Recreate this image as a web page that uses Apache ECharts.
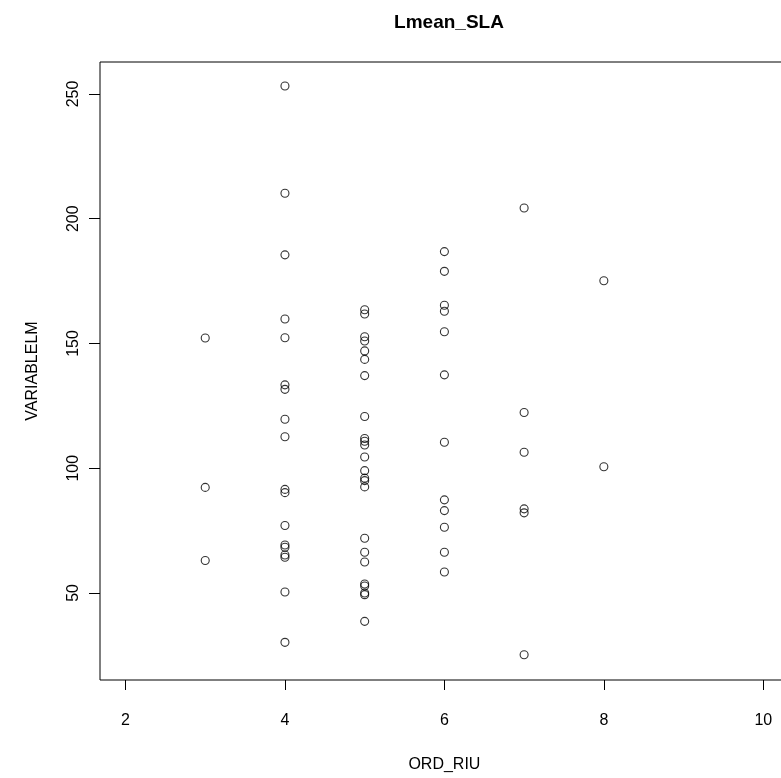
<!DOCTYPE html>
<html>
<head>
<meta charset="utf-8">
<script src="https://cdn.jsdelivr.net/npm/echarts@6/dist/echarts.min.js"></script>
<style>
html,body{margin:0;padding:0;background:#fff;}
#chart{width:781px;height:778px;}
</style>
</head>
<body>
<div id="chart"></div>
<script>
// Values of VARIABLELM grouped by ORD_RIU
const riu3 = [152.2, 92.3, 63.0];
const riu4 = [253.2, 210.2, 185.5, 159.8, 152.3, 133.4, 131.6, 119.6, 112.6, 91.5, 90.2, 77.0, 69.2, 68.3, 65.2, 64.3, 50.4, 30.2];
const riu5 = [163.5, 161.8, 152.7, 151.0, 147.0, 143.6, 137.1, 120.7, 111.9, 110.8, 109.3, 104.5, 99.0, 96.0, 95.0, 92.5, 71.9, 66.3, 62.4, 53.6, 52.8, 50.0, 49.3, 38.6];
const riu6 = [186.8, 178.9, 165.3, 162.9, 154.7, 137.4, 110.4, 87.3, 83.0, 76.3, 66.3, 58.4];
const riu7 = [204.3, 122.3, 106.4, 83.7, 82.1, 25.2];
const riu8 = [175.1, 100.6];
const xTicks = [2, 4, 6, 8, 10];
const yTicks = [50, 100, 150, 200, 250];

const groups = [[3, riu3], [4, riu4], [5, riu5], [6, riu6], [7, riu7], [8, riu8]];
const points = [];
groups.forEach(([x, ys]) => ys.forEach(y => points.push([x, y])));

const font = 'Liberation Sans, Arial, Helvetica, sans-serif';
const chart = echarts.init(document.getElementById('chart'), null, {renderer: 'canvas'});
chart.setOption({
  animation: false,
  backgroundColor: '#ffffff',
  title: {
    text: 'Lmean_SLA',
    left: 444, top: 8,
    textAlign: 'center',
    textStyle: {fontFamily: font, fontSize: 19, fontWeight: 'bold', color: '#000'}
  },
  grid: {
    left: 100, top: 62, width: 688.8, height: 618,
    outerBoundsMode: 'none',
    containLabel: false,
    show: true, borderColor: '#000', borderWidth: 1, backgroundColor: 'transparent'
  },
  xAxis: {
    type: 'value',
    min: 1.68, max: 10.32,
    name: 'ORD_RIU',
    nameLocation: 'middle',
    nameGap: 77,
    nameTextStyle: {fontFamily: font, fontSize: 16, color: '#000'},
    axisLine: {show: false},
    axisTick: {show: true, inside: false, length: 10, customValues: xTicks, lineStyle: {color: '#000', width: 1}},
    axisLabel: {show: true, margin: 33, customValues: xTicks, fontFamily: font, fontSize: 16, color: '#000'},
    splitLine: {show: false}
  },
  yAxis: {
    type: 'value',
    min: 15.1, max: 262.8,
    name: 'VARIABLELM',
    nameLocation: 'middle',
    nameGap: 59,
    nameRotate: 90,
    nameTextStyle: {fontFamily: font, fontSize: 16, color: '#000'},
    axisLine: {show: false},
    axisTick: {show: true, inside: false, length: 11, customValues: yTicks, lineStyle: {color: '#000', width: 1}},
    axisLabel: {show: true, rotate: 90, margin: 18, customValues: yTicks, fontFamily: font, fontSize: 16, color: '#000'},
    splitLine: {show: false}
  },
  series: [{
    type: 'scatter',
    data: points,
    symbol: 'circle',
    symbolSize: 8,
    itemStyle: {color: 'rgba(255,255,255,0)', borderColor: '#000', borderWidth: 1.1}
  }]
});
</script>
</body>
</html>
